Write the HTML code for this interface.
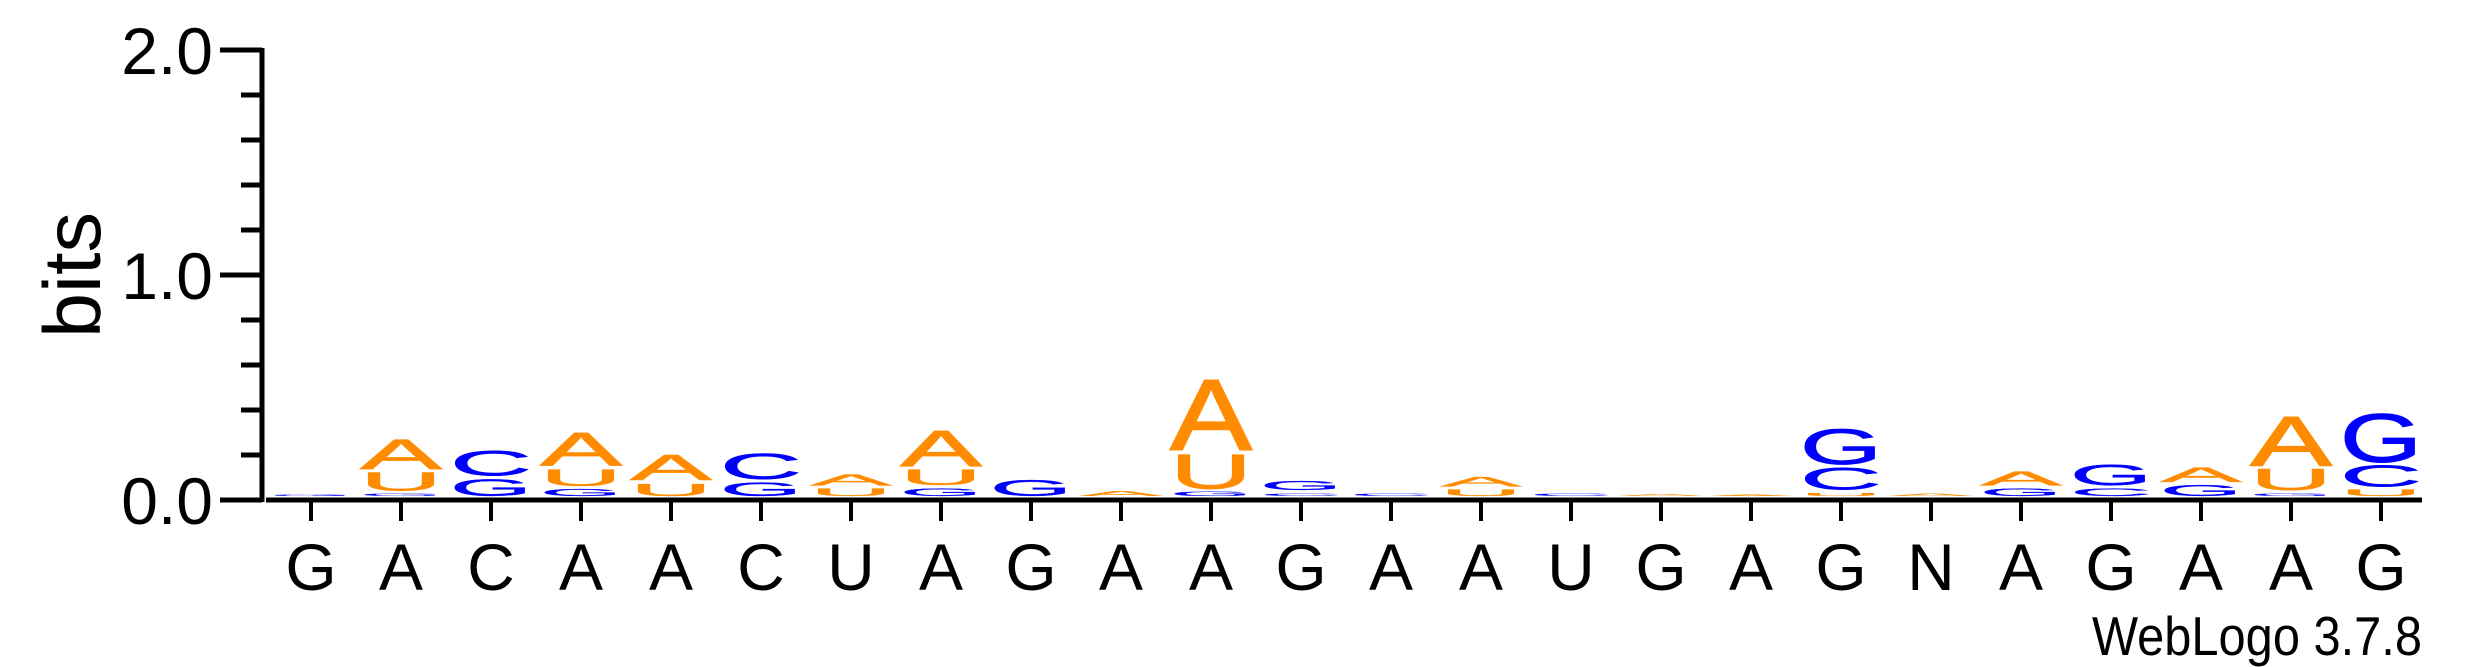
<!DOCTYPE html>
<html><head><meta charset="utf-8"><style>
html,body{margin:0;padding:0;background:#fff;}
svg{display:block;}
text{font-family:"Liberation Sans",sans-serif;}
</style></head><body>
<svg id="chart" width="2475" height="667" viewBox="0 0 2475 667" xmlns="http://www.w3.org/2000/svg">
<g id="axes"></g>
<g id="stacks"></g>
<text x="0" y="0" font-size="81" text-anchor="middle" transform="translate(100,275) rotate(-90)">bits</text>
<text x="2092" y="655" font-size="55" textLength="330" lengthAdjust="spacingAndGlyphs">WebLogo 3.7.8</text>
</svg>
<script>
const positionLabels = ["G","A","C","A","A","C","U","A","G","A","A","G","A","A","U","G","A","G","N","A","G","A","A","G"];
// letters per column, bottom to top
const stackLetters = [
 ["G"],["G","U","A"],["G","C"],["G","U","A"],["U","A"],["G","C"],["U","A"],["G","U","A"],
 ["G"],["A"],["G","U","A"],["C","G"],["C"],["U","A"],["C"],["A"],
 ["A"],["U","C","G"],["A"],["G","A"],["C","G"],["G","A"],["G","U","A"],["U","C","G"]
];
// bits per letter, matching stackLetters
const stackBits = [
 [0.006],[0.01,0.08,0.13],[0.074,0.108],[0.03,0.074,0.144],[0.055,0.111],[0.059,0.111],[0.033,0.047],[0.034,0.067,0.156],
 [0.071],[0.022],[0.02,0.151,0.31],[0.012,0.04],[0.01],[0.027,0.041],[0.01],[0.008],
 [0.006],[0.015,0.096,0.155],[0.01],[0.033,0.062],[0.034,0.089],[0.047,0.064],[0.012,0.093,0.215],[0.027,0.093,0.21]
];
const yTicks = [0,0.2,0.4,0.6,0.8,1.0,1.2,1.4,1.6,1.8,2.0];
const yTickLabels = ["0.0","","","","","1.0","","","","","2.0"];

const NS="http://www.w3.org/2000/svg";
const y0=500, pxPerBit=225, x0=311, colStep=90, letterW=82, gapPx=3, basePx=496;
const yS = b => y0 - b*pxPerBit;
const xS = i => x0 + i*colStep;
const colors={A:"#FF8C00",U:"#FF8C00",C:"#0000FF",G:"#0000FF"};
function mk(tag,attrs){const e=document.createElementNS(NS,tag);for(const k in attrs)e.setAttribute(k,attrs[k]);return e;}
const axes=document.getElementById('axes');
const stacks=document.getElementById('stacks');

let l=mk('line',{x1:262,y1:yS(2)-2,x2:262,y2:502,stroke:"#000","stroke-width":5});


axes.appendChild(l);
l=mk('line',{x1:266,y1:500,x2:2422,y2:500,stroke:"#000","stroke-width":5});


axes.appendChild(l);

yTicks.forEach((v,i)=>{
  const major=yTickLabels[i]!=="";
  const t=mk('line',{x1:major?220:241,y1:yS(v),x2:262,y2:yS(v),stroke:"#000","stroke-width":5});
  
  
  axes.appendChild(t);
  if(major){
    const tx=mk('text',{x:213,y:yS(v)+24,"font-size":66,"text-anchor":"end"});
    tx.textContent=yTickLabels[i];
    
    
    axes.appendChild(tx);
  }
});

positionLabels.forEach((lab,i)=>{
  const t=mk('line',{x1:xS(i),y1:500,x2:xS(i),y2:521,stroke:"#000","stroke-width":4});
  
  
  axes.appendChild(t);
  const tx=mk('text',{x:xS(i),y:590,"font-size":66,"text-anchor":"middle"});
  tx.textContent=lab;
  
  
  axes.appendChild(tx);
});

const capH=69; // effective cap height at font-size 100
stackLetters.forEach((letters,i)=>{
  let bot=basePx;
  letters.forEach((ch,j)=>{
    const gh=Math.max(stackBits[i][j]*pxPerBit,1);
    const sy=gh/capH;
    const t=mk('text',{x:0,y:0,"font-size":100,fill:colors[ch],"stroke":colors[ch],"stroke-width":1.5,
      textLength:letterW,lengthAdjust:"spacingAndGlyphs",
      transform:`translate(${xS(i)-letterW/2},${bot}) scale(1,${sy})`});
    t.textContent=ch;
    
    
    stacks.appendChild(t);
    bot-=gh*72/69+gapPx;
  });
});
</script>
</body></html>
